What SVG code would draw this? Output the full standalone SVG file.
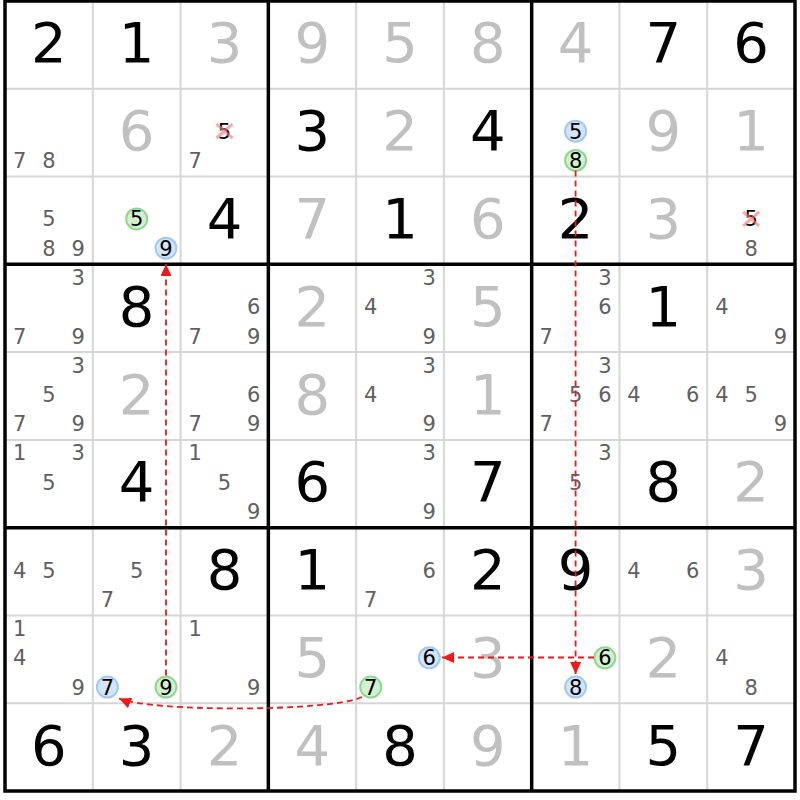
<svg xmlns="http://www.w3.org/2000/svg" width="800" height="800" viewBox="0 0 800 800">
<style>
text{font-family:"DejaVu Sans","Liberation Sans",sans-serif;text-anchor:middle}
.g{font-size:56px;fill:#000}
.s{font-size:56px;fill:#c0c0c0}
.c{font-size:21px;fill:#606060}
.h{font-size:21px;fill:#000}
.cb{fill:#d3e5fb;stroke:#9fc9f3;stroke-width:2}
.cg{fill:#d3f0d3;stroke:#8bd98b;stroke-width:2}
.x{stroke:#f27a7a;stroke-opacity:0.65;stroke-width:3}
.thin{stroke:#d6d6d6;stroke-width:2}
.thick{stroke:#000;stroke-width:3.5;fill:none}
.arr{fill:none;stroke:#f01818;stroke-width:1.8;stroke-dasharray:6 4}
</style>
<defs>
<marker id="ah" viewBox="0 0 12 11" markerWidth="12" markerHeight="11" refX="12" refY="5.5" orient="auto" markerUnits="userSpaceOnUse">
<path d="M0,0 L12,5.5 L0,11 Z" fill="#f01818"/>
</marker>
</defs>
<rect x="0" y="0" width="800" height="800" fill="#fff"/>
<g id="grid-thin">
<path class="thin" d="M92.78,1V791M180.56,1V791M356.12,1V791M443.9,1V791M619.46,1V791M707.24,1V791M5,88.78H795M5,176.56H795M5,352.12H795M5,439.9H795M5,615.46H795M5,703.24H795"/>
</g>
<!-- row 0 -->
<g id="r0c0" transform="translate(5,1)"><text class="g" x="43.9" y="61.4">2</text></g>
<g id="r0c1" transform="translate(92.78,1)"><text class="g" x="43.9" y="61.4">1</text></g>
<g id="r0c2" transform="translate(180.56,1)"><text class="s" x="43.9" y="61.4">3</text></g>
<g id="r0c3" transform="translate(268.34,1)"><text class="s" x="43.9" y="61.4">9</text></g>
<g id="r0c4" transform="translate(356.12,1)"><text class="s" x="43.9" y="61.4">5</text></g>
<g id="r0c5" transform="translate(443.9,1)"><text class="s" x="43.9" y="61.4">8</text></g>
<g id="r0c6" transform="translate(531.68,1)"><text class="s" x="43.9" y="61.4">4</text></g>
<g id="r0c7" transform="translate(619.46,1)"><text class="g" x="43.9" y="61.4">7</text></g>
<g id="r0c8" transform="translate(707.24,1)"><text class="g" x="43.9" y="61.4">6</text></g>
<!-- row 1 -->
<g id="r1c0" transform="translate(5,88.78)"><text class="c" x="14.6" y="79.2">7</text><text class="c" x="43.9" y="79.2">8</text></g>
<g id="r1c1" transform="translate(92.78,88.78)"><text class="s" x="43.9" y="61.4">6</text></g>
<g id="r1c2" transform="translate(180.56,88.78)"><text class="h" x="43.9" y="49.9">5</text><path class="x" d="M35.9,35.4L51.9,49.4M51.9,35.4L35.9,49.4"/><text class="c" x="14.6" y="79.2">7</text></g>
<g id="r1c3" transform="translate(268.34,88.78)"><text class="g" x="43.9" y="61.4">3</text></g>
<g id="r1c4" transform="translate(356.12,88.78)"><text class="s" x="43.9" y="61.4">2</text></g>
<g id="r1c5" transform="translate(443.9,88.78)"><text class="g" x="43.9" y="61.4">4</text></g>
<g id="r1c6" transform="translate(531.68,88.78)"><circle class="cb" cx="43.9" cy="42.4" r="10.5"/><text class="h" x="43.9" y="49.9">5</text><circle class="cg" cx="43.9" cy="71.6" r="10.5"/><text class="h" x="43.9" y="79.2">8</text></g>
<g id="r1c7" transform="translate(619.46,88.78)"><text class="s" x="43.9" y="61.4">9</text></g>
<g id="r1c8" transform="translate(707.24,88.78)"><text class="s" x="43.9" y="61.4">1</text></g>
<!-- row 2 -->
<g id="r2c0" transform="translate(5,176.56)"><text class="c" x="43.9" y="49.9">5</text><text class="c" x="43.9" y="79.2">8</text><text class="c" x="73.2" y="79.2">9</text></g>
<g id="r2c1" transform="translate(92.78,176.56)"><circle class="cg" cx="43.9" cy="42.4" r="10.5"/><text class="h" x="43.9" y="49.9">5</text><circle class="cb" cx="73.2" cy="71.6" r="10.5"/><text class="h" x="73.2" y="79.2">9</text></g>
<g id="r2c2" transform="translate(180.56,176.56)"><text class="g" x="43.9" y="61.4">4</text></g>
<g id="r2c3" transform="translate(268.34,176.56)"><text class="s" x="43.9" y="61.4">7</text></g>
<g id="r2c4" transform="translate(356.12,176.56)"><text class="g" x="43.9" y="61.4">1</text></g>
<g id="r2c5" transform="translate(443.9,176.56)"><text class="s" x="43.9" y="61.4">6</text></g>
<g id="r2c6" transform="translate(531.68,176.56)"><text class="g" x="43.9" y="61.4">2</text></g>
<g id="r2c7" transform="translate(619.46,176.56)"><text class="s" x="43.9" y="61.4">3</text></g>
<g id="r2c8" transform="translate(707.24,176.56)"><text class="h" x="43.9" y="49.9">5</text><path class="x" d="M35.9,35.4L51.9,49.4M51.9,35.4L35.9,49.4"/><text class="c" x="43.9" y="79.2">8</text></g>
<!-- row 3 -->
<g id="r3c0" transform="translate(5,264.34)"><text class="c" x="73.2" y="20.6">3</text><text class="c" x="14.6" y="79.2">7</text><text class="c" x="73.2" y="79.2">9</text></g>
<g id="r3c1" transform="translate(92.78,264.34)"><text class="g" x="43.9" y="61.4">8</text></g>
<g id="r3c2" transform="translate(180.56,264.34)"><text class="c" x="73.2" y="49.9">6</text><text class="c" x="14.6" y="79.2">7</text><text class="c" x="73.2" y="79.2">9</text></g>
<g id="r3c3" transform="translate(268.34,264.34)"><text class="s" x="43.9" y="61.4">2</text></g>
<g id="r3c4" transform="translate(356.12,264.34)"><text class="c" x="73.2" y="20.6">3</text><text class="c" x="14.6" y="49.9">4</text><text class="c" x="73.2" y="79.2">9</text></g>
<g id="r3c5" transform="translate(443.9,264.34)"><text class="s" x="43.9" y="61.4">5</text></g>
<g id="r3c6" transform="translate(531.68,264.34)"><text class="c" x="73.2" y="20.6">3</text><text class="c" x="73.2" y="49.9">6</text><text class="c" x="14.6" y="79.2">7</text></g>
<g id="r3c7" transform="translate(619.46,264.34)"><text class="g" x="43.9" y="61.4">1</text></g>
<g id="r3c8" transform="translate(707.24,264.34)"><text class="c" x="14.6" y="49.9">4</text><text class="c" x="73.2" y="79.2">9</text></g>
<!-- row 4 -->
<g id="r4c0" transform="translate(5,352.12)"><text class="c" x="73.2" y="20.6">3</text><text class="c" x="43.9" y="49.9">5</text><text class="c" x="14.6" y="79.2">7</text><text class="c" x="73.2" y="79.2">9</text></g>
<g id="r4c1" transform="translate(92.78,352.12)"><text class="s" x="43.9" y="61.4">2</text></g>
<g id="r4c2" transform="translate(180.56,352.12)"><text class="c" x="73.2" y="49.9">6</text><text class="c" x="14.6" y="79.2">7</text><text class="c" x="73.2" y="79.2">9</text></g>
<g id="r4c3" transform="translate(268.34,352.12)"><text class="s" x="43.9" y="61.4">8</text></g>
<g id="r4c4" transform="translate(356.12,352.12)"><text class="c" x="73.2" y="20.6">3</text><text class="c" x="14.6" y="49.9">4</text><text class="c" x="73.2" y="79.2">9</text></g>
<g id="r4c5" transform="translate(443.9,352.12)"><text class="s" x="43.9" y="61.4">1</text></g>
<g id="r4c6" transform="translate(531.68,352.12)"><text class="c" x="73.2" y="20.6">3</text><text class="c" x="43.9" y="49.9">5</text><text class="c" x="73.2" y="49.9">6</text><text class="c" x="14.6" y="79.2">7</text></g>
<g id="r4c7" transform="translate(619.46,352.12)"><text class="c" x="14.6" y="49.9">4</text><text class="c" x="73.2" y="49.9">6</text></g>
<g id="r4c8" transform="translate(707.24,352.12)"><text class="c" x="14.6" y="49.9">4</text><text class="c" x="43.9" y="49.9">5</text><text class="c" x="73.2" y="79.2">9</text></g>
<!-- row 5 -->
<g id="r5c0" transform="translate(5,439.9)"><text class="c" x="14.6" y="20.6">1</text><text class="c" x="73.2" y="20.6">3</text><text class="c" x="43.9" y="49.9">5</text></g>
<g id="r5c1" transform="translate(92.78,439.9)"><text class="g" x="43.9" y="61.4">4</text></g>
<g id="r5c2" transform="translate(180.56,439.9)"><text class="c" x="14.6" y="20.6">1</text><text class="c" x="43.9" y="49.9">5</text><text class="c" x="73.2" y="79.2">9</text></g>
<g id="r5c3" transform="translate(268.34,439.9)"><text class="g" x="43.9" y="61.4">6</text></g>
<g id="r5c4" transform="translate(356.12,439.9)"><text class="c" x="73.2" y="20.6">3</text><text class="c" x="73.2" y="79.2">9</text></g>
<g id="r5c5" transform="translate(443.9,439.9)"><text class="g" x="43.9" y="61.4">7</text></g>
<g id="r5c6" transform="translate(531.68,439.9)"><text class="c" x="73.2" y="20.6">3</text><text class="c" x="43.9" y="49.9">5</text></g>
<g id="r5c7" transform="translate(619.46,439.9)"><text class="g" x="43.9" y="61.4">8</text></g>
<g id="r5c8" transform="translate(707.24,439.9)"><text class="s" x="43.9" y="61.4">2</text></g>
<!-- row 6 -->
<g id="r6c0" transform="translate(5,527.68)"><text class="c" x="14.6" y="49.9">4</text><text class="c" x="43.9" y="49.9">5</text></g>
<g id="r6c1" transform="translate(92.78,527.68)"><text class="c" x="43.9" y="49.9">5</text><text class="c" x="14.6" y="79.2">7</text></g>
<g id="r6c2" transform="translate(180.56,527.68)"><text class="g" x="43.9" y="61.4">8</text></g>
<g id="r6c3" transform="translate(268.34,527.68)"><text class="g" x="43.9" y="61.4">1</text></g>
<g id="r6c4" transform="translate(356.12,527.68)"><text class="c" x="73.2" y="49.9">6</text><text class="c" x="14.6" y="79.2">7</text></g>
<g id="r6c5" transform="translate(443.9,527.68)"><text class="g" x="43.9" y="61.4">2</text></g>
<g id="r6c6" transform="translate(531.68,527.68)"><text class="g" x="43.9" y="61.4">9</text></g>
<g id="r6c7" transform="translate(619.46,527.68)"><text class="c" x="14.6" y="49.9">4</text><text class="c" x="73.2" y="49.9">6</text></g>
<g id="r6c8" transform="translate(707.24,527.68)"><text class="s" x="43.9" y="61.4">3</text></g>
<!-- row 7 -->
<g id="r7c0" transform="translate(5,615.46)"><text class="c" x="14.6" y="20.6">1</text><text class="c" x="14.6" y="49.9">4</text><text class="c" x="73.2" y="79.2">9</text></g>
<g id="r7c1" transform="translate(92.78,615.46)"><circle class="cb" cx="14.6" cy="71.6" r="10.5"/><text class="h" x="14.6" y="79.2">7</text><circle class="cg" cx="73.2" cy="71.6" r="10.5"/><text class="h" x="73.2" y="79.2">9</text></g>
<g id="r7c2" transform="translate(180.56,615.46)"><text class="c" x="14.6" y="20.6">1</text><text class="c" x="73.2" y="79.2">9</text></g>
<g id="r7c3" transform="translate(268.34,615.46)"><text class="s" x="43.9" y="61.4">5</text></g>
<g id="r7c4" transform="translate(356.12,615.46)"><circle class="cb" cx="73.2" cy="42.4" r="10.5"/><text class="h" x="73.2" y="49.9">6</text><circle class="cg" cx="14.6" cy="71.6" r="10.5"/><text class="h" x="14.6" y="79.2">7</text></g>
<g id="r7c5" transform="translate(443.9,615.46)"><text class="s" x="43.9" y="61.4">3</text></g>
<g id="r7c6" transform="translate(531.68,615.46)"><circle class="cg" cx="73.2" cy="42.4" r="10.5"/><text class="h" x="73.2" y="49.9">6</text><circle class="cb" cx="43.9" cy="71.6" r="10.5"/><text class="h" x="43.9" y="79.2">8</text></g>
<g id="r7c7" transform="translate(619.46,615.46)"><text class="s" x="43.9" y="61.4">2</text></g>
<g id="r7c8" transform="translate(707.24,615.46)"><text class="c" x="14.6" y="49.9">4</text><text class="c" x="43.9" y="79.2">8</text></g>
<!-- row 8 -->
<g id="r8c0" transform="translate(5,703.24)"><text class="g" x="43.9" y="61.4">6</text></g>
<g id="r8c1" transform="translate(92.78,703.24)"><text class="g" x="43.9" y="61.4">3</text></g>
<g id="r8c2" transform="translate(180.56,703.24)"><text class="s" x="43.9" y="61.4">2</text></g>
<g id="r8c3" transform="translate(268.34,703.24)"><text class="s" x="43.9" y="61.4">4</text></g>
<g id="r8c4" transform="translate(356.12,703.24)"><text class="g" x="43.9" y="61.4">8</text></g>
<g id="r8c5" transform="translate(443.9,703.24)"><text class="s" x="43.9" y="61.4">9</text></g>
<g id="r8c6" transform="translate(531.68,703.24)"><text class="s" x="43.9" y="61.4">1</text></g>
<g id="r8c7" transform="translate(619.46,703.24)"><text class="g" x="43.9" y="61.4">5</text></g>
<g id="r8c8" transform="translate(707.24,703.24)"><text class="g" x="43.9" y="61.4">7</text></g>
<g id="grid-thick">
<path class="thick" d="M268.34,1V791M531.68,1V791M5,264.34H795M5,527.68H795"/>
<rect class="thick" x="5" y="1" width="790" height="790"/>
</g>
<g id="connectors">
<path class="arr" d="M166,675.5V264" marker-end="url(#ah)"/>
<path class="arr" d="M575.6,170.5V674" marker-end="url(#ah)"/>
<path class="arr" d="M594,657.5H442" marker-end="url(#ah)"/>
<path class="arr" d="M362,697 C330,712 152,712 119,698.5" marker-end="url(#ah)"/>
</g>
</svg>
